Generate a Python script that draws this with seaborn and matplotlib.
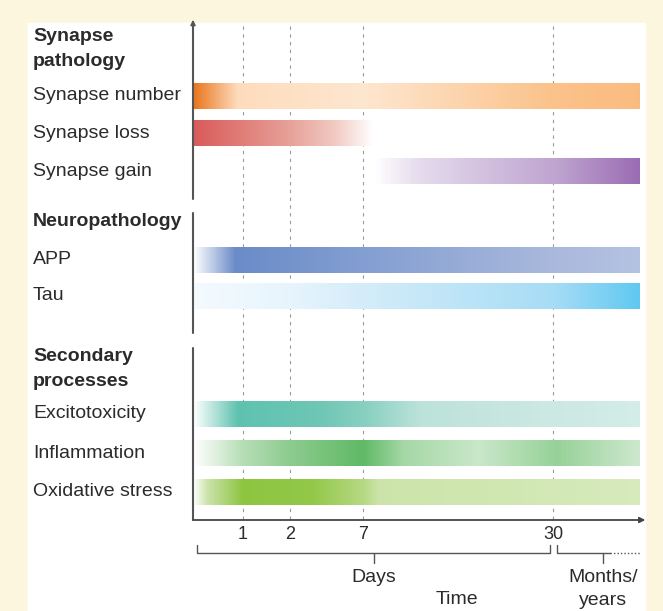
import numpy as np
import matplotlib.pyplot as plt
from matplotlib.colors import ListedColormap
from matplotlib.patches import Rectangle
import seaborn as sns

# %% data
rows = ["Synapse number", "Synapse loss", "Synapse gain", "APP", "Tau",
        "Excitotoxicity", "Inflammation", "Oxidative stress"]
groups = ["Synapse\npathology", "Neuropathology", "Secondary\nprocesses"]
day_ticks = [1, 2, 7, 30]
tick_labels = ["1", "2", "7", "30"]

# piecewise time axis: days -> distance along the axis
scale_days = [0, 1, 2, 7, 30, 365]
scale_pos = [0, 50, 97, 170, 360, 447]

# colour stops for each bar (day, colour)
number_days = [0, 0.9, 7, 30, 365]
number_cols = ["#E8741C", "#FDDCBC", "#FDE6CF", "#FBC28A", "#FABB80"]
loss_days = [0, 1, 2, 5, 8.3]
loss_cols = ["#D95A5A", "#E07E78", "#E6A199", "#F0C8C0", "#FFFFFF"]
gain_days = [8.3, 14, 30, 365]
gain_cols = ["#FFFFFF", "#E4DAEC", "#BFA5D0", "#9A6CB3"]
app_days = [0, 0.85, 2, 7, 30, 365]
app_cols = ["#FFFFFF", "#6A8BC8", "#7493CC", "#839ED1", "#A9B8DC", "#B4C2E2"]
tau_days = [0, 2, 7, 30, 365]
tau_cols = ["#F4FAFE", "#E6F4FC", "#D3ECF9", "#A6DCF5", "#5FC8F1"]
excito_days = [0, 0.9, 4, 7, 14, 30, 365]
excito_cols = ["#FFFFFF", "#5EC2AF", "#6EC6B5", "#86CFC0", "#BCE2DA", "#CCE8E2", "#D3ECE7"]
inflam_days = [0, 1, 2, 7, 12, 21, 45, 365]
inflam_cols = ["#FFFFFF", "#B6DDB6", "#8CCB8E", "#5FB965", "#A5D7A6", "#C9E7C9", "#96D198", "#CDE8CD"]
oxid_days = [0, 0.3, 1, 3.5, 7, 9, 365]
oxid_cols = ["#FFFFFF", "#C9E2A8", "#8DC540", "#92C748", "#B5D882", "#CCE4A9", "#D6EABC"]

bar_days = [number_days, loss_days, gain_days, app_days, tau_days,
            excito_days, inflam_days, oxid_days]
bar_cols = [number_cols, loss_cols, gain_cols, app_cols, tau_cols,
            excito_cols, inflam_cols, oxid_cols]

# %% layout (pixel units of the 663x611 canvas)
W, H = 663, 611
row_y = [96, 133, 171, 260, 296, 414, 453, 492]
header_y = [49, 222, 369]
axis_segments = [(22, 199), (213, 333), (348, 520)]
bar_h = 26
ink = "#2B2B2B"


def fwd(d):
    return np.interp(d, scale_days, scale_pos)


def inv(p):
    return np.interp(p, scale_pos, scale_days)


def gradient(days, cols):
    # blend each pair of stops with cells proportional to the distance on the axis
    pos = fwd(np.asarray(days, float))
    edges, colours = [], []
    for i in range(len(days) - 1):
        n = max(int(round((pos[i + 1] - pos[i]) * 2)), 2)
        pal = sns.blend_palette([cols[i], cols[i + 1]], n)
        e = np.linspace(pos[i], pos[i + 1], n + 1)
        edges.extend(e[:-1] if i < len(days) - 2 else e)
        colours.extend(pal)
    return inv(np.array(edges)), colours


sns.set_theme(style="white")
plt.rcParams["font.family"] = ["Liberation Sans", "DejaVu Sans"]

fig = plt.figure(figsize=(W / 100, H / 100), dpi=100)
fig.patch.set_facecolor("#FDF6DF")
fig.add_artist(Rectangle((28 / W, 0), (645 - 28) / W, (H - 23) / H,
                         transform=fig.transFigure, color="white", zorder=0))

ax = fig.add_axes([193 / W, 1 - 520 / H, (640 - 193) / W, (520 - 22) / H])
ax.set_facecolor("none")
ax.set_xscale("function", functions=(fwd, inv))
ax.set_xlim(0, 365)
ax.set_ylim(520, 22)

# dashed guides
ax.vlines(day_ticks, 26, 520, colors="#9A9A9A", linestyles=(0, (3, 4)), lw=0.8, zorder=1)

# gradient bars
for y, days, cols in zip(row_y, bar_days, bar_cols):
    xe, pal = gradient(days, cols)
    cmap = ListedColormap(pal)
    c = np.arange(len(pal))[None, :]
    ax.pcolormesh(xe, [y - bar_h / 2, y + bar_h / 2], c, cmap=cmap,
                  vmin=-0.5, vmax=len(pal) - 0.5, shading="flat", zorder=2,
                  rasterized=True)

# axes lines
for top, bottom in axis_segments:
    ax.plot([0, 0], [top, bottom], color="#555555", lw=1.5, clip_on=False, zorder=3)
ax.annotate("", xy=(0, 17), xytext=(0, 30), xycoords="data",
            arrowprops=dict(arrowstyle="-|>", color="#555555", lw=1.2, mutation_scale=7),
            annotation_clip=False)
ax.annotate("", xy=(1.012, 0), xytext=(0, 0), xycoords="axes fraction",
            arrowprops=dict(arrowstyle="-|>", color="#444444", lw=1.3,
                            mutation_scale=8, shrinkA=0, shrinkB=0),
            annotation_clip=False)

sns.despine(ax=ax, left=True, bottom=True)
ax.set_yticks([])
ax.set_xticks(day_ticks, tick_labels)
ax.minorticks_off()
ax.tick_params(axis="x", length=0, pad=4, labelsize=13, labelcolor=ink)
ax.grid(False)

# brackets under the axis
bk = dict(color="#555555", lw=1.0, clip_on=False)
ax.plot([0.08, 0.08, 29.6, 29.6], [545, 553, 553, 545], **bk)
ax.plot([8.3, 8.3], [553, 563], **bk)
ax.plot([45, 45, 249], [545, 553, 553], **bk)
ax.plot([249, 365], [553, 553], color="#555555", lw=1.0, ls=(0, (1, 1.5)), clip_on=False)
ax.plot([222, 222], [553, 563], **bk)
ax.text(8.3, 577, "Days", ha="center", va="center", fontsize=14, color=ink)
ax.text(222, 589, "Months/\nyears", ha="center", va="center", fontsize=14,
        color=ink, linespacing=1.4)
ax.text(inv(264), 600, "Time", ha="center", va="center", fontsize=14, color=ink)

# left labels
for y, label in zip(header_y, groups):
    fig.text(33 / W, 1 - y / H, label, ha="left", va="center", fontsize=14,
             fontweight="bold", color=ink, linespacing=1.55)
for y, label in zip(row_y, rows):
    fig.text(33 / W, 1 - y / H, label, ha="left", va="center", fontsize=14, color=ink)

fig.savefig("out.png", dpi=100, facecolor=fig.get_facecolor())
